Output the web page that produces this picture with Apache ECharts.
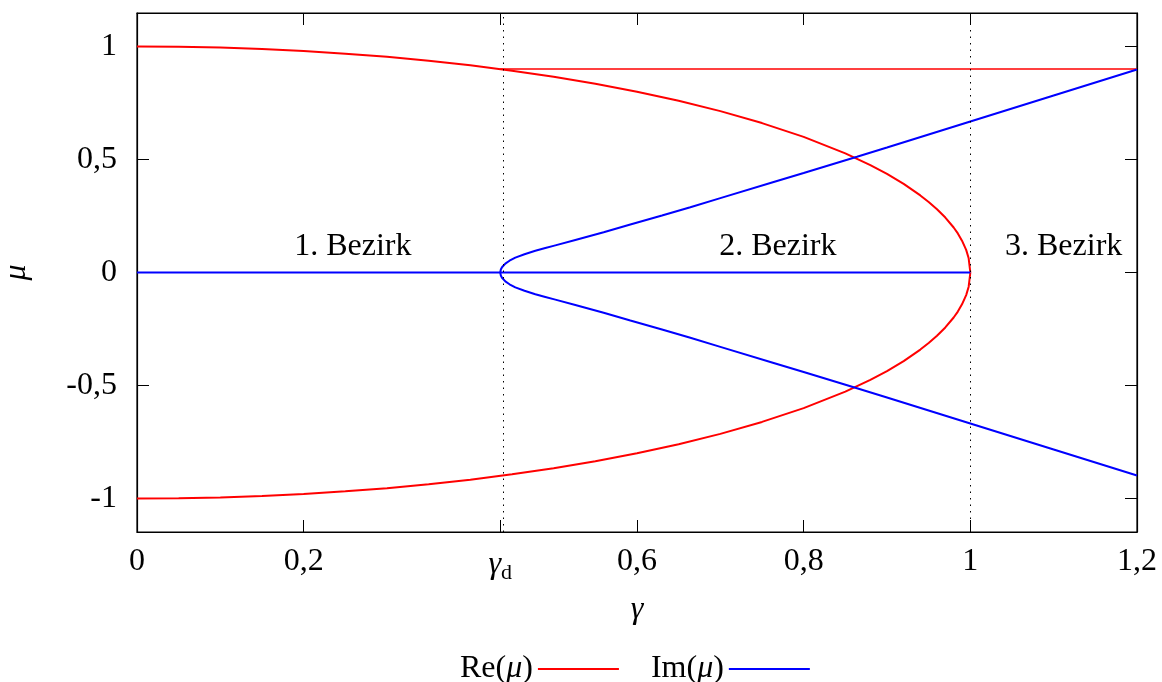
<!DOCTYPE html>
<html>
<head>
<meta charset="utf-8">
<script src="https://cdn.jsdelivr.net/npm/echarts@6/dist/echarts.min.js"></script>
<style>
  html, body { margin: 0; padding: 0; background: #fff; }
  #chart { width: 1162px; height: 682px; }
</style>
</head>
<body>
<div id="chart"></div>
<script>
// Bifurcation point on the γ axis
const gammaD = 0.4359;

// Re(μ): upper and lower arc, and the constant branch from γd on
const reUpperGamma = [0, 0.05, 0.1, 0.15, 0.2, 0.25, 0.3, 0.35, 0.4, 0.45, 0.5, 0.55, 0.6, 0.65, 0.7, 0.75, 0.8, 0.85, 0.88, 0.9, 0.92, 0.94, 0.95, 0.96, 0.97, 0.98, 0.985, 0.99, 0.995, 0.998, 1.0];
const reUpperMu    = [1, 0.999, 0.995, 0.989, 0.98, 0.968, 0.954, 0.937, 0.917, 0.893, 0.866, 0.835, 0.8, 0.76, 0.714, 0.661, 0.6, 0.527, 0.475, 0.436, 0.392, 0.341, 0.312, 0.28, 0.243, 0.199, 0.173, 0.141, 0.1, 0.063, 0];
const reLowerGamma = [0, 0.05, 0.1, 0.15, 0.2, 0.25, 0.3, 0.35, 0.4, 0.45, 0.5, 0.55, 0.6, 0.65, 0.7, 0.75, 0.8, 0.85, 0.88, 0.9, 0.92, 0.94, 0.95, 0.96, 0.97, 0.98, 0.985, 0.99, 0.995, 0.998, 1.0];
const reLowerMu    = [-1, -0.999, -0.995, -0.989, -0.98, -0.968, -0.954, -0.937, -0.917, -0.893, -0.866, -0.835, -0.8, -0.76, -0.714, -0.661, -0.6, -0.527, -0.475, -0.436, -0.392, -0.341, -0.312, -0.28, -0.243, -0.199, -0.173, -0.141, -0.1, -0.063, 0];
const reFlatGamma  = [0.4359, 1.2];
const reFlatMu     = [0.9, 0.9];

// Im(μ): zero branch and the two branches opening at γd
const imZeroGamma  = [0, 1.0];
const imZeroMu     = [0, 0];
const imUpperGamma = [0.4359, 0.4366, 0.438, 0.442, 0.447, 0.454, 0.465, 0.478, 0.49, 0.502, 0.526, 0.56, 0.592, 0.63, 0.664, 0.7, 0.764, 0.8, 0.864, 0.9, 1.0, 1.1, 1.2];
const imUpperMu    = [0, 0.013, 0.023, 0.039, 0.052, 0.066, 0.081, 0.096, 0.108, 0.12, 0.144, 0.178, 0.212, 0.252, 0.289, 0.329, 0.4, 0.44, 0.512, 0.553, 0.668, 0.783, 0.898];
const imLowerGamma = [0.4359, 0.4366, 0.438, 0.442, 0.447, 0.454, 0.465, 0.478, 0.49, 0.502, 0.526, 0.56, 0.592, 0.63, 0.664, 0.7, 0.764, 0.8, 0.864, 0.9, 1.0, 1.1, 1.2];
const imLowerMu    = [0, -0.013, -0.023, -0.039, -0.052, -0.066, -0.081, -0.096, -0.108, -0.12, -0.144, -0.178, -0.212, -0.252, -0.289, -0.329, -0.4, -0.44, -0.512, -0.553, -0.668, -0.783, -0.898];

// Region labels
const regionNames = ['1. Bezirk', '2. Bezirk', '3. Bezirk'];
const regionGamma = [0.259, 0.769, 1.112];
const regionMu    = [0.115, 0.115, 0.115];

// Tick positions
const xTicks = [0, 0.2, gammaD, 0.6, 0.8, 1, 1.2];
const yTicks = [-1, -0.5, 0, 0.5, 1];
const dividers = [gammaD, 1];

const FONT = 'Liberation Serif';
const RE_NAME = 'Re(μ)';
const IM_NAME = 'Im(μ)';

function pairs(xs, ys) { return xs.map((x, i) => [x, ys[i]]); }
function decimalComma(v) { return String(v).replace('.', ','); }

const chart = echarts.init(document.getElementById('chart'), null, { renderer: 'canvas' });

const tickStyle = { show: true, inside: true, length: 12, lineStyle: { color: '#000', width: 1 } };
const lineAxis = { show: true, onZero: false, lineStyle: { color: '#000', width: 1.2 } };

function lineSeries(name, color, xs, ys, width) {
  return {
    type: 'line', name: name, data: pairs(xs, ys),
    showSymbol: false, symbol: 'none', smooth: false,
    lineStyle: { color: color, width: width }, itemStyle: { color: color },
    animation: false, z: 3
  };
}

const series = [
  lineSeries(RE_NAME, '#ff0000', reUpperGamma, reUpperMu, 2),
  lineSeries(RE_NAME, '#ff0000', reLowerGamma, reLowerMu, 2),
  lineSeries(RE_NAME, '#ff0000', reFlatGamma, reFlatMu, 1.6),
  lineSeries(IM_NAME, '#0000ff', imZeroGamma, imZeroMu, 1.8),
  lineSeries(IM_NAME, '#0000ff', imUpperGamma, imUpperMu, 2),
  lineSeries(IM_NAME, '#0000ff', imLowerGamma, imLowerMu, 2),
  {
    type: 'scatter', name: 'regions', symbolSize: 0, silent: true, animation: false,
    itemStyle: { opacity: 1, color: '#000' },
    data: regionNames.map((n, i) => [regionGamma[i], regionMu[i], n]),
    label: {
      show: true, position: 'inside', formatter: p => p.data[2],
      fontFamily: FONT, fontSize: 32, color: '#000', opacity: 1
    },
    markLine: {
      silent: true, symbol: 'none', animation: false,
      label: { show: false },
      lineStyle: { color: '#000', width: 1, type: [1.5, 5], opacity: 1 },
      data: dividers.map(v => ({ xAxis: v }))
    }
  }
];

chart.setOption({
  backgroundColor: '#fff',
  animation: false,
  textStyle: { fontFamily: FONT, color: '#000' },
  grid: {
    left: 137, right: 25, top: 13, bottom: 150,
    outerBoundsMode: 'none', containLabel: false,
    show: true, borderColor: '#000', borderWidth: 1.2
  },
  legend: {
    data: [RE_NAME, IM_NAME],
    left: 455, top: 648, align: 'right',
    itemWidth: 81, itemHeight: 32, itemGap: 31,
    itemStyle: { color: 'rgba(0,0,0,0)', borderWidth: 0, opacity: 0 },
    lineStyle: { width: 2 },
    formatter: n => n === RE_NAME ? 'Re({i|μ})' : 'Im({i|μ})',
    textStyle: {
      fontFamily: FONT, fontSize: 32, color: '#000',
      rich: { i: { fontFamily: FONT, fontSize: 32, fontStyle: 'italic', color: '#000' } }
    }
  },
  xAxis: [
    {
      type: 'value', min: 0, max: 1.2, position: 'bottom',
      name: 'γ', nameLocation: 'middle', nameGap: 62,
      nameTextStyle: { fontFamily: FONT, fontSize: 32, fontStyle: 'italic', color: '#000' },
      axisLine: lineAxis, splitLine: { show: false },
      axisTick: Object.assign({ customValues: xTicks }, tickStyle),
      axisLabel: {
        customValues: xTicks, margin: 14, color: '#000', fontFamily: FONT, fontSize: 32,
        formatter: v => Math.abs(v - gammaD) < 1e-6 ? '{g|γ}{d|d}' : decimalComma(v),
        rich: {
          g: { fontFamily: FONT, fontSize: 32, fontStyle: 'italic', color: '#000' },
          d: { fontFamily: FONT, fontSize: 22, color: '#000', padding: [16, 0, 0, 0] }
        }
      }
    },
    {
      type: 'value', min: 0, max: 1.2, position: 'top',
      axisLine: lineAxis, splitLine: { show: false },
      axisTick: Object.assign({ customValues: xTicks }, tickStyle),
      axisLabel: { show: false }
    }
  ],
  yAxis: [
    {
      type: 'value', min: -1.148, max: 1.148, position: 'left',
      name: 'μ', nameLocation: 'middle', nameGap: 104, nameRotate: 90,
      nameTextStyle: { fontFamily: FONT, fontSize: 32, fontStyle: 'italic', color: '#000' },
      axisLine: lineAxis, splitLine: { show: false },
      axisTick: Object.assign({ customValues: yTicks }, tickStyle),
      axisLabel: {
        customValues: yTicks, margin: 20, color: '#000', fontFamily: FONT, fontSize: 32,
        formatter: v => decimalComma(v)
      }
    },
    {
      type: 'value', min: -1.148, max: 1.148, position: 'right',
      axisLine: lineAxis, splitLine: { show: false },
      axisTick: Object.assign({ customValues: yTicks }, tickStyle),
      axisLabel: { show: false }
    }
  ],
  series: series
});
</script>
</body>
</html>
